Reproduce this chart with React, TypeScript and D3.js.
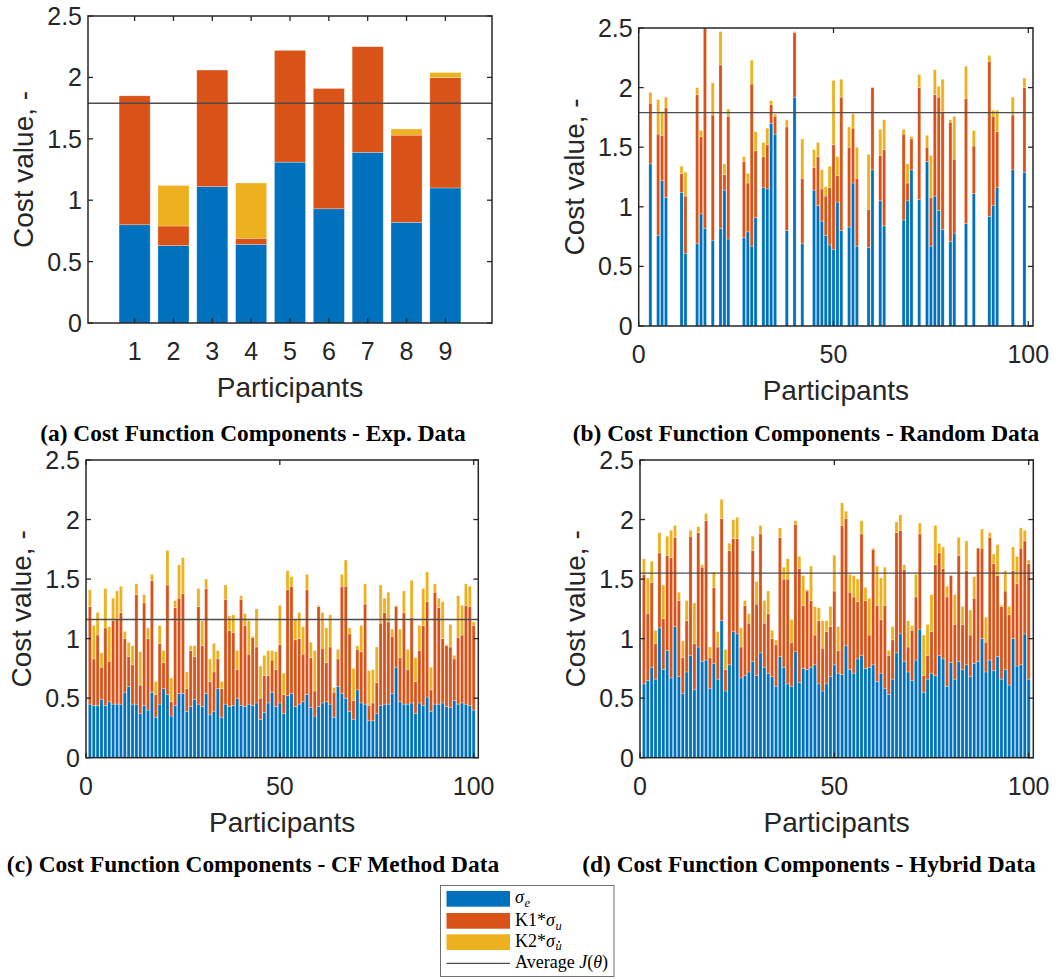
import React, { useLayoutEffect, useRef, useState } from "react";
import * as d3 from "d3";

// MATLAB default palette for the three cost components
const COLOR_E = "#0072BD";
const COLOR_U = "#D95319";
const COLOR_UD = "#EDB120";
const AVG_COLOR = "#4d4d4d";
const AXIS_COLOR = "#262626";

const yTicks = [0, 0.5, 1, 1.5, 2, 2.5];

// (a) Experimental data
const expParticipants = [1, 2, 3, 4, 5, 6, 7, 8, 9];
const expSigmaE = [0.8, 0.63, 1.11, 0.64, 1.31, 0.93, 1.39, 0.82, 1.1];
const expK1SigmaU = [1.05, 0.16, 0.95, 0.05, 0.91, 0.98, 0.86, 0.71, 0.9];
const expK2SigmaUd = [0, 0.33, 0, 0.45, 0, 0, 0, 0.05, 0.04];
const expAverage = 1.79;
const expXTicks = [1, 2, 3, 4, 5, 6, 7, 8, 9];

// (b) Random data (only the participants that produced a result)
const rndParticipants = [
  3, 5, 6, 7, 11, 12, 15, 16, 17, 19, 21, 22, 23, 27, 28, 29, 30, 32, 33, 34, 35, 38, 40, 42, 45, 46,
  47, 48, 49, 50, 51, 52, 54, 55, 56, 59, 60, 62, 63, 68, 69, 70, 72, 74, 75, 76, 77, 78, 80, 81, 84,
  86, 90, 91, 92, 96, 99,
];
const rndSigmaE = [
  1.36, 0.76, 1.22, 1.08, 1.12, 0.61, 0.69, 0.94, 0.82, 0.72, 0.82, 1.14, 0.73, 0.74, 0.79, 0.67, 0.91,
  1.16, 1.15, 1.7, 1.61, 0.8, 1.92, 0.69, 1.14, 1.01, 0.88, 0.76, 0.68, 0.64, 1.04, 0.8, 0.83, 1.2,
  0.67, 0.66, 1.31, 1.05, 0.84, 0.89, 1.05, 1.31, 1.06, 1.38, 0.67, 1.09, 0.97, 0.81, 0.71, 0.78, 0.86,
  1.11, 0.92, 1.01, 1.16, 1.31, 1.29,
];
const rndK1SigmaU = [
  0.51, 0.85, 0.38, 0.75, 0.16, 0.48, 1.25, 0.65, 1.68, 1.05, 1.37, 0.13, 1.03, 0.64, 0.41, 1.36, 0.56,
  0.26, 0.37, 0.16, 0.15, 0.87, 0.54, 0.55, 0.19, 0.41, 0.27, 0.33, 0.48, 0.88, 0.22, 1.12, 0.67, 0.46,
  0.57, 0.32, 0.69, 0.38, 0.64, 0.72, 0.15, 0.26, 0.94, 0.12, 0.41, 0.85, 0.95, 0.99, 1.0, 0.62, 1.05,
  0.4, 1.3, 0.75, 0.47, 0.46, 0.71,
];
const rndK2SigmaUd = [
  0.09, 0.29, 0.2, 0.09, 0.06, 0.2, 0.06, 0.05, 0, 0.27, 0.28, 0.09, 0.06, 0.04, 0.08, 0.2, 0.16, 0.12,
  0.14, 0.03, 0.02, 0.06, 0.01, 0.33, 0.15, 0.12, 0.16, 0.08, 0.18, 0.54, 0.16, 0.15, 0.17, 0.12, 0.26,
  0.46, 0, 0.22, 0.25, 0.04, 0.16, 0.02, 0.11, 0.1, 0.35, 0.21, 0.09, 0.27, 0.02, 0.36, 0.27, 0.13, 0.05,
  0.05, 0.18, 0.15, 0.08,
];
const rndAverage = 1.79;

const hundredTicks = [0, 50, 100];
const hundredParticipants = d3.range(1, 101);

// (c) CF method data, participants 1..100
const cfSigmaE = [
  0.45, 0.44, 0.44, 0.49, 0.44, 0.47, 0.45, 0.45, 0.45, 0.55, 0.6, 0.45, 0.45, 0.37, 0.44, 0.4, 0.55,
  0.34, 0.45, 0.58, 0.53, 0.35, 0.44, 0.54, 0.54, 0.39, 0.43, 0.49, 0.45, 0.43, 0.54, 0.36, 0.39, 0.58,
  0.34, 0.45, 0.43, 0.44, 0.5, 0.44, 0.43, 0.45, 0.44, 0.46, 0.32, 0.38, 0.46, 0.55, 0.43, 0.46, 0.37,
  0.52, 0.54, 0.43, 0.45, 0.47, 0.53, 0.42, 0.35, 0.43, 0.46, 0.47, 0.45, 0.34, 0.6, 0.54, 0.5, 0.39,
  0.32, 0.57, 0.46, 0.45, 0.31, 0.31, 0.37, 0.44, 0.45, 0.45, 0.54, 0.76, 0.47, 0.45, 0.45, 0.46, 0.37,
  0.46, 0.44, 0.51, 0.39, 0.45, 0.45, 0.46, 0.43, 0.42, 0.48, 0.45, 0.46, 0.45, 0.44, 0.4,
];
const cfK1SigmaU = [
  0.82, 0.39, 0.59, 0.27, 0.65, 0.34, 0.7, 0.72, 0.77, 0.45, 0.25, 0.33, 0.92, 0.24, 0.86, 0.6, 0.94,
  0.19, 0.51, 0.22, 0.92, 0.12, 0.82, 0.8, 0.84, 0.19, 0.47, 0.36, 0.82, 0.51, 0.88, 0.28, 0.33, 0.25,
  0.24, 0.88, 0.64, 0.61, 0.24, 0.89, 0.68, 0.42, 0.57, 0.47, 0.18, 0.31, 0.23, 0.27, 0.31, 0.49, 0.16,
  0.89, 0.9, 0.56, 0.55, 0.4, 0.88, 0.42, 0.21, 0.84, 0.46, 0.33, 0.48, 0.21, 0.23, 0.9, 0.94, 0.65,
  0.16, 0.34, 0.43, 0.84, 0.13, 0.15, 0.26, 0.69, 0.77, 0.69, 0.48, 0.51, 0.37, 0.77, 0.29, 0.72, 0.27,
  0.44, 0.67, 0.8, 0.18, 0.94, 0.81, 0.54, 0.51, 0.51, 0.35, 0.56, 0.57, 0.83, 0.83, 0.71,
];
const cfK2SigmaUd = [
  0.14, 0.28, 0.19, 0.12, 0.33, 0.29, 0.19, 0.23, 0.22, 0.06, 0.12, 0.16, 0.09, 0.28, 0.07, 0.09, 0.05,
  0.11, 0.15, 0.1, 0.29, 0.2, 0.06, 0.28, 0.3, 0.14, 0.04, 0.09, 0.15, 0.21, 0.08, 0.19, 0.24, 0.07,
  0.06, 0.12, 0.12, 0.15, 0.16, 0.03, 0.1, 0.28, 0.01, 0.32, 0.27, 0.17, 0.21, 0.08, 0.15, 0.33, 0.18,
  0.16, 0.08, 0.17, 0.22, 0.23, 0.13, 0.13, 0.34, 0.01, 0.3, 0.29, 0.27, 0.04, 0.08, 0.1, 0.22, 0.05,
  0.27, 0.03, 0.22, 0.17, 0.29, 0.28, 0.3, 0.32, 0.12, 0.25, 0.06, 0.01, 0.24, 0.18, 0.17, 0.31, 0.2,
  0.21, 0.31, 0.25, 0.19, 0.07, 0.08, 0.31, 0.01, 0.19, 0.03, 0.35, 0.25, 0.18, 0.17, 0.03,
];
const cfAverage = 1.16;

// (d) Hybrid data, participants 1..100
const hySigmaE = [
  0.62, 0.65, 0.76, 0.66, 1.09, 0.74, 0.9, 0.67, 1.1, 0.68, 0.54, 0.72, 0.86, 0.57, 0.93, 0.81, 0.82,
  0.58, 0.79, 0.66, 1.15, 0.56, 0.78, 1.06, 1.04, 0.67, 0.69, 0.72, 0.81, 0.69, 0.88, 0.76, 0.71, 0.68,
  0.6, 0.85, 0.76, 0.62, 0.6, 0.89, 0.63, 0.75, 0.74, 0.76, 0.78, 0.62, 0.56, 0.62, 0.68, 0.78, 0.71,
  0.7, 0.94, 0.74, 0.71, 0.83, 0.86, 0.75, 0.76, 0.78, 0.64, 0.71, 0.58, 0.53, 0.66, 0.88, 1.04, 0.81,
  0.72, 0.65, 0.82, 1.08, 0.55, 0.66, 0.71, 0.69, 0.86, 0.83, 0.6, 0.8, 0.66, 0.81, 0.74, 0.78, 0.68,
  0.79, 0.81, 1.0, 0.72, 0.82, 0.73, 0.85, 0.66, 0.74, 0.61, 1.0, 0.77, 0.78, 1.04, 0.66,
];
const hyK1SigmaU = [
  0.92, 0.56, 0.71, 0.3, 0.63, 0.43, 0.8, 1.01, 0.75, 0.64, 0.3, 0.43, 1.0, 0.39, 0.96, 0.79, 1.17,
  0.26, 0.64, 0.27, 0.86, 0.18, 0.96, 0.78, 0.8, 0.26, 0.59, 0.41, 0.93, 0.6, 1.0, 0.37, 0.5, 0.32,
  0.35, 1.0, 0.74, 0.88, 0.37, 1.07, 0.96, 0.53, 0.66, 0.56, 0.25, 0.53, 0.36, 0.44, 0.42, 0.62, 0.19,
  1.25, 1.07, 0.65, 0.64, 0.48, 1.02, 0.57, 0.27, 0.97, 0.64, 0.45, 0.7, 0.33, 0.33, 1.01, 0.87, 0.77,
  0.21, 0.42, 0.53, 0.8, 0.14, 0.2, 0.35, 0.93, 0.86, 0.76, 0.75, 0.73, 0.46, 0.89, 0.38, 0.79, 0.35,
  0.55, 0.95, 0.76, 0.25, 1.03, 0.9, 0.68, 0.61, 0.66, 0.59, 0.57, 0.69, 0.98, 0.78, 0.97,
];
const hyK2SigmaUd = [
  0.13, 0.3, 0.18, 0.11, 0.17, 0.28, 0.16, 0.23, 0.1, 0.07, 0.14, 0.17, 0.05, 0.34, 0.05, 0.02, 0.06,
  0.09, 0.13, 0.13, 0.16, 0.17, 0.06, 0.16, 0.18, 0.16, 0.04, 0.08, 0.12, 0.19, 0.07, 0.19, 0.19, 0.07,
  0.04, 0.08, 0.1, 0.17, 0.19, 0.03, 0.1, 0.25, 0.01, 0.29, 0.24, 0.11, 0.23, 0.09, 0.17, 0.3, 0.2,
  0.19, 0.06, 0.15, 0.18, 0.19, 0.11, 0.11, 0.31, 0.01, 0.33, 0.35, 0.32, 0.04, 0.11, 0.09, 0.13, 0.04,
  0.22, 0.04, 0.19, 0.09, 0.34, 0.26, 0.31, 0.33, 0.08, 0.18, 0.09, 0, 0.25, 0.15, 0.15, 0.25, 0.21,
  0.18, 0, 0.16, 0.21, 0.04, 0.08, 0.26, 0.01, 0.17, 0.07, 0.2, 0.23, 0.17, 0.09, 0.03,
];
const hyAverage = 1.55;

const TICK_FONT = "'Liberation Sans', Arial, Helvetica, sans-serif";
const SERIF_FONT = "'Liberation Serif', 'Times New Roman', serif";

type Box = { left: number; right: number; top: number; bottom: number };

type PanelProps = {
  box: Box;
  xDomain: [number, number];
  xTicks: number[];
  participants: number[];
  e: number[];
  u: number[];
  ud: number[];
  average: number;
  caption: string;
  captionX: number;
  captionY: number;
};

function Panel({ box, xDomain, xTicks, participants, e, u, ud, average, caption, captionX, captionY }: PanelProps) {
  const x = d3.scaleLinear().domain(xDomain).range([box.left, box.right]);
  const y = d3.scaleLinear().domain([0, 2.5]).range([box.bottom, box.top]);
  const rows = participants.map((p, i) => ({ p, e: e[i], u: u[i], ud: ud[i] }));
  const stacked = d3.stack<any>().keys(["e", "u", "ud"])(rows);
  const colors = [COLOR_E, COLOR_U, COLOR_UD];
  const bw = (x(1) - x(0)) * 0.8;
  const tickLen = 5;
  const cx = (box.left + box.right) / 2;
  const cy = (box.top + box.bottom) / 2;

  return (
    <g>
      {stacked.map((layer, li) => (
        <g key={li} fill={colors[li]}>
          {layer.map((d, i) => {
            const h = y(d[0]) - y(d[1]);
            if (h <= 0) return null;
            return (
              <rect
                key={i}
                x={x(d.data.p) - bw / 2}
                y={y(d[1])}
                width={bw}
                height={h}
                stroke="#ffffff"
                strokeOpacity={0.45}
                strokeWidth={0.6}
              />
            );
          })}
        </g>
      ))}
      <line x1={box.left} x2={box.right} y1={y(average)} y2={y(average)} stroke={AVG_COLOR} strokeWidth={1.4} />
      <rect
        x={box.left}
        y={box.top}
        width={box.right - box.left}
        height={box.bottom - box.top}
        fill="none"
        stroke={AXIS_COLOR}
        strokeWidth={1.5}
      />
      {yTicks.map((t) => (
        <g key={"y" + t}>
          <line x1={box.left} x2={box.left + tickLen} y1={y(t)} y2={y(t)} stroke={AXIS_COLOR} strokeWidth={1.3} />
          <line x1={box.right} x2={box.right - tickLen} y1={y(t)} y2={y(t)} stroke={AXIS_COLOR} strokeWidth={1.3} />
          <text
            x={box.left - 6}
            y={y(t)}
            dy="0.36em"
            textAnchor="end"
            fontFamily={TICK_FONT}
            fontSize={25}
            fill={AXIS_COLOR}
          >
            {String(t)}
          </text>
        </g>
      ))}
      {xTicks.map((t) => (
        <g key={"x" + t}>
          <line x1={x(t)} x2={x(t)} y1={box.bottom} y2={box.bottom - tickLen} stroke={AXIS_COLOR} strokeWidth={1.3} />
          <line x1={x(t)} x2={x(t)} y1={box.top} y2={box.top + tickLen} stroke={AXIS_COLOR} strokeWidth={1.3} />
          <text
            x={x(t)}
            y={box.bottom + 37}
            textAnchor="middle"
            fontFamily={TICK_FONT}
            fontSize={25}
            fill={AXIS_COLOR}
          >
            {String(t)}
          </text>
        </g>
      ))}
      <text x={cx} y={box.bottom + 74} textAnchor="middle" fontFamily={TICK_FONT} fontSize={28} fill={AXIS_COLOR}>
        Participants
      </text>
      <text
        transform={`translate(${box.left - 55},${cy}) rotate(-90)`}
        textAnchor="middle"
        fontFamily={TICK_FONT}
        fontSize={28}
        fill={AXIS_COLOR}
      >
        Cost value, -
      </text>
      <text
        x={captionX}
        y={captionY}
        textAnchor="middle"
        fontFamily={SERIF_FONT}
        fontWeight="bold"
        fontSize={23.4}
        fill="#000"
      >
        {caption}
      </text>
    </g>
  );
}

// Legend label of the form "<prefix>σ" followed by an italic subscript,
// optionally with a time-derivative dot over the subscript.
function SigmaLabel({ x, y, prefix, sub, dotted }: { x: number; y: number; prefix: string; sub: string; dotted?: boolean }) {
  const mainRef = useRef<SVGTextElement>(null);
  const [w, setW] = useState(0);
  useLayoutEffect(() => {
    if (mainRef.current) setW(mainRef.current.getComputedTextLength());
  }, []);
  const subSize = 12.5;
  const subY = y + 3.5;
  return (
    <g>
      <text ref={mainRef} x={x} y={y}>
        {prefix}
        <tspan fontStyle="italic">σ</tspan>
      </text>
      <text x={x + w + 0.5} y={subY} fontStyle="italic" fontSize={subSize}>
        {sub}
      </text>
      {dotted && w > 0 ? <circle cx={x + w + 0.5 + 3.6} cy={subY - 8.3} r={0.95} fill="#000" /> : null}
    </g>
  );
}

function Legend() {
  const bx = 440.5;
  const by = 885.5;
  const sw = { x: 446.5, w: 63.5, h: 15.7 };
  const textX = 515;
  return (
    <g fontFamily={SERIF_FONT} fontSize={18} fill="#000">
      <rect x={bx} y={by} width={173.5} height={91} fill="#fff" stroke="#6e6e6e" strokeWidth={1} />
      <rect x={sw.x} y={891} width={sw.w} height={sw.h} fill={COLOR_E} />
      <rect x={sw.x} y={913} width={sw.w} height={sw.h} fill={COLOR_U} />
      <rect x={sw.x} y={934.3} width={sw.w} height={sw.h} fill={COLOR_UD} />
      <line x1={sw.x} x2={sw.x + sw.w} y1={963.3} y2={963.3} stroke={AVG_COLOR} strokeWidth={1.2} />
      <SigmaLabel x={textX} y={903} prefix="" sub="e" />
      <SigmaLabel x={textX} y={926} prefix="K1*" sub="u" />
      <SigmaLabel x={textX} y={946.5} prefix="K2*" sub="u" dotted />
      <text x={textX} y={968}>
        Average <tspan fontStyle="italic">J</tspan>(<tspan fontStyle="italic">θ</tspan>)
      </text>
    </g>
  );
}

export default function App() {
  return (
    <div style={{ position: "absolute", left: 0, top: 0 }}>
      <svg width={1056} height={979} style={{ display: "block", background: "#fff" }}>
        <Panel
          box={{ left: 88, right: 492, top: 16, bottom: 323 }}
          xDomain={[-0.2, 10.2]}
          xTicks={expXTicks}
          participants={expParticipants}
          e={expSigmaE}
          u={expK1SigmaU}
          ud={expK2SigmaUd}
          average={expAverage}
          caption="(a) Cost Function Components - Exp. Data"
          captionX={253}
          captionY={440.5}
        />
        <Panel
          box={{ left: 638.7, right: 1033, top: 28, bottom: 326 }}
          xDomain={[0, 101.2]}
          xTicks={hundredTicks}
          participants={rndParticipants}
          e={rndSigmaE}
          u={rndK1SigmaU}
          ud={rndK2SigmaUd}
          average={rndAverage}
          caption="(b) Cost Function Components - Random Data"
          captionX={806}
          captionY={440.5}
        />
        <Panel
          box={{ left: 86, right: 478.3, top: 460, bottom: 757.7 }}
          xDomain={[0, 101.2]}
          xTicks={hundredTicks}
          participants={hundredParticipants}
          e={cfSigmaE}
          u={cfK1SigmaU}
          ud={cfK2SigmaUd}
          average={cfAverage}
          caption="(c) Cost Function Components - CF Method Data"
          captionX={253}
          captionY={872}
        />
        <Panel
          box={{ left: 640, right: 1033.3, top: 460, bottom: 757.7 }}
          xDomain={[0, 101.2]}
          xTicks={hundredTicks}
          participants={hundredParticipants}
          e={hySigmaE}
          u={hyK1SigmaU}
          ud={hyK2SigmaUd}
          average={hyAverage}
          caption="(d) Cost Function Components - Hybrid Data"
          captionX={809}
          captionY={872}
        />
        <Legend />
      </svg>
    </div>
  );
}
